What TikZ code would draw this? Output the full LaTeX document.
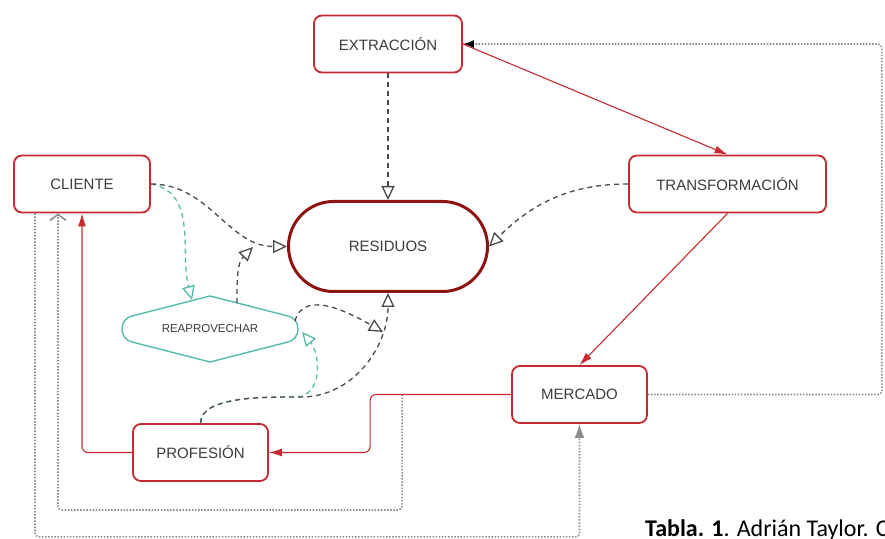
\documentclass[tikz,border=0pt]{standalone}
\usepackage{fontspec}
\setmainfont{Liberation Sans}
\newfontfamily\captionfont{Carlito}
\usepackage{xcolor}
\usepackage{tikz}
\usetikzlibrary{shapes,arrows.meta,positioning}

\definecolor{boxred}{HTML}{C62A30}
\definecolor{darkred}{HTML}{8E1414}
\definecolor{txtgray}{HTML}{3C3C3C}
\definecolor{linegray}{HTML}{4A4A4A}
\definecolor{dotgray}{HTML}{8C8C8C}
\definecolor{reusegreen}{HTML}{55BBAA}

\begin{document}
\begin{tikzpicture}[x=1pt, y=1pt]
    % Define styles
    \tikzstyle{stage} = [rectangle, draw=boxred, line width=1.8pt, rounded corners=8pt, fill=white, text=txtgray, font=\fontsize{15}{18}\selectfont, minimum height=57pt, inner sep=0pt]
    \tikzstyle{waste} = [rectangle, draw=darkred, line width=3pt, rounded corners=45pt, fill=white, text=txtgray, font=\fontsize{15}{18}\selectfont, minimum width=199pt, minimum height=90pt, inner sep=0pt]
    \tikzstyle{reuse} = [rectangle, text=txtgray, font=\fontsize{11.5}{14}\selectfont, minimum width=176pt, minimum height=66pt, inner sep=0pt]
    \tikzstyle{reuseline} = [draw=reusegreen, line width=1.4pt, line join=round]
    \tikzstyle{flow} = [boxred, line width=1.1pt, -{Latex[length=13pt,width=8pt]}]
    \tikzstyle{wastearrow} = [linegray, line width=1.3pt, dash pattern=on 5pt off 4pt, -{Triangle[open,length=14pt,width=13pt]}]
    \tikzstyle{reusearrow} = [reusegreen, line width=1.3pt, dash pattern=on 5pt off 4pt, -{Triangle[open,length=14pt,width=13pt]}]
    \tikzstyle{loop} = [dotgray, line width=1.6pt, dash pattern=on 1.5pt off 1.6pt, rounded corners=4pt]

    \path [use as bounding box, clip] (0,0) rectangle (885,538);

    % Main stages
    \node [stage, minimum width=148pt] (extr) at (388,494) {EXTRACCIÓN};
    \node [stage, minimum width=136pt] (cli) at (82,354) {CLIENTE};
    \node [stage, minimum width=197pt] (trans) at (727.5,354) {TRANSFORMACIÓN};
    \node [waste] (res) at (388,291.5) {RESIDUOS};
    \node [reuse] (reap) at (210,209) {REAPROVECHAR};
    \node [stage, minimum width=135pt] (merc) at (579.5,143.5) {MERCADO};
    \node [stage, minimum width=135pt] (prof) at (200.5,85.5) {PROFESIÓN};

    % Outline of the reuse step
    \draw [reuseline, shift={(reap.center)}] (0,33) -- (78,13) to[out=-14, in=90] (88,0) to[out=-90, in=14] (78,-13)
        -- (0,-33) -- (-78,-13) to[out=166, in=-90] (-88,0) to[out=90, in=-166] (-78,13) -- cycle;

    % Helper points
    \coordinate (split) at ([xshift=-109pt]merc.west);
    \coordinate (bend) at ([shift={(100pt,26pt)}]prof.north);
    \coordinate (j1) at (253,291);
    \coordinate (j2) at (383,206);

    % Loops
    \draw [loop, -{Straight Barb[length=6pt,width=16pt]}] (split) |- (58,28) -- ([xshift=-24pt]cli.south);
    \draw [loop, -{Latex[length=14pt,width=10pt]}] ([xshift=-47pt]cli.south) |- ([yshift=-113pt]merc.south) -- (merc.south);
    \draw [loop, -{Latex[length=11pt,width=8pt,color=black]}] (merc.east) -- ++(234,0) |- (extr.east);

    % Main flow
    \draw [flow] (extr.east) -- (trans.north);
    \draw [flow] (trans.south) -- (merc.north);
    \draw [flow, rounded corners=6pt] (merc.west) -- ++(-141,0) |- (prof.east);
    \draw [flow, rounded corners=6pt] (prof.west) -| (cli.south);

    % Reuse links
    \draw [reusearrow] (cli.east) to[out=-10, in=105] ([shift={(-18pt,29pt)}]reap.center);
    \draw [reusearrow] (prof.north) to[out=90, in=180, looseness=0.7] (bend) to[out=20, in=-50] ([shift={(92pt,-3pt)}]reap.center);

    % Waste links
    \draw [wastearrow] (extr.south) -- (res.north);
    \draw [wastearrow] (trans.west) to[out=180, in=45] (res.east);
    \draw [wastearrow] (cli.east) to[out=0, in=180] (res.west);
    \draw [wastearrow] ([shift={(27pt,26pt)}]reap.center) to[out=90, in=-135] (j1);
    \draw [wastearrow] ([shift={(85pt,8pt)}]reap.center) to[out=75, in=150] (j2);
    \draw [wastearrow] (prof.north) to[out=90, in=180, looseness=0.7] (bend) to[out=0, in=-90] (res.south);

    % Caption
    \node [anchor=base west, inner sep=0pt, font=\captionfont\fontsize{24}{28}\selectfont] (caption) at (645,2) {\textbf{Tabla. 1}. Adrián Taylor. C};
\end{tikzpicture}
\end{document}
